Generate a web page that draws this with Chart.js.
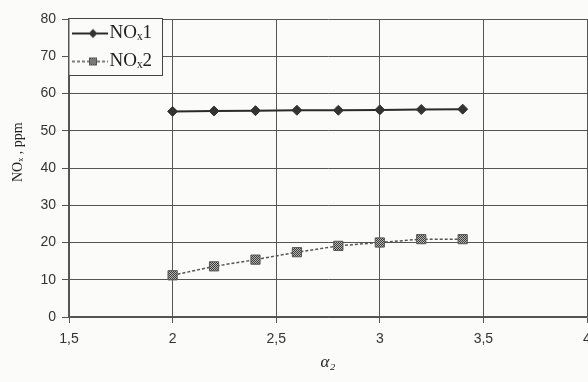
<!DOCTYPE html>
<html><head><meta charset="utf-8">
<script src="https://cdn.jsdelivr.net/npm/chart.js@4/dist/chart.umd.min.js"></script>
<style>html,body{margin:0;padding:0;background:#fbfbfa;}canvas{display:block;}</style>
</head><body>
<canvas id="c" width="588" height="382"></canvas>
<script>
const alpha = [2.0, 2.2, 2.4, 2.6, 2.8, 3.0, 3.2, 3.4];
const nox1 = [55.2, 55.3, 55.4, 55.5, 55.5, 55.6, 55.7, 55.8];
const nox2 = [11.2, 13.6, 15.4, 17.4, 19.1, 20.0, 20.9, 20.9];
const seriesNames = ['NOₓ1', 'NOₓ2'];
const xTitle = 'α₂';
const yTitle = '\u2003\u2003 NOₓ , ppm';

function makePattern() {
  const p = document.createElement('canvas'); p.width = 2; p.height = 2;
  const g = p.getContext('2d');
  g.fillStyle = '#b8b8b8'; g.fillRect(0,0,2,2);
  g.fillStyle = '#3a3a3a'; g.fillRect(0,0,1,1); g.fillRect(1,1,1,1);
  return document.createElement('canvas').getContext('2d').createPattern(p, 'repeat');
}
const pat = makePattern();

function legendIcon(kind) {
  const c = document.createElement('canvas'); c.width = 44; c.height = 14;
  const g = c.getContext('2d');
  g.strokeStyle = kind === 0 ? '#2a2a2a' : '#555';
  g.lineWidth = kind === 0 ? 2 : 1.5;
  if (kind === 1) g.setLineDash([3,2]);
  g.beginPath(); g.moveTo(8,7); g.lineTo(44,7); g.stroke();
  g.setLineDash([]);
  if (kind === 0) {
    g.fillStyle = '#333'; g.beginPath();
    g.moveTo(29,2.5); g.lineTo(33.5,7); g.lineTo(29,11.5); g.lineTo(24.5,7); g.closePath(); g.fill();
  } else {
    g.fillStyle = pat; g.fillRect(25,3,8,8);
    g.strokeStyle = '#555'; g.lineWidth = 1; g.strokeRect(25.5,3.5,7,7);
  }
  return c;
}

const legendBox = {
  id: 'legendBox',
  afterInit(chart) {
    const lg = chart.legend;
    const orig = lg.draw;
    lg.draw = function() {
      const ca = chart.chartArea;
      const pad = this.options.labels.padding;
      const ctx = chart.ctx;
      const l = ca.left - 1, t = ca.top - 1, w = 94, h = 57;
      ctx.save();
      ctx.fillStyle = '#fbfbfa';
      ctx.fillRect(l, t, w, h);
      ctx.strokeStyle = '#444'; ctx.lineWidth = 1;
      ctx.strokeRect(l + 0.5, t + 0.5, w, h);
      ctx.restore();
      const dx = (ca.left + 3) - (this.left + pad);
      const dy = (ca.top + 5) - (this.top + pad);
      ctx.save();
      ctx.translate(dx, dy);
      orig.apply(this, arguments);
      ctx.restore();
    };
  }
};

new Chart(document.getElementById('c'), {
  type: 'scatter',
  data: {
    datasets: [
      { label: seriesNames[0], data: alpha.map((x,i)=>({x, y: nox1[i]})), showLine: true,
        borderColor: '#2a2a2a', borderWidth: 2, pointStyle: 'rectRot', pointRadius: 5,
        pointBackgroundColor: '#333', pointBorderColor: '#333', pointBorderWidth: 1 },
      { label: seriesNames[1], data: alpha.map((x,i)=>({x, y: nox2[i]})), showLine: true,
        borderColor: '#555', borderWidth: 1.5, borderDash: [3,2], pointStyle: 'rect', pointRadius: 6.5,
        pointBackgroundColor: pat, pointBorderColor: '#555', pointBorderWidth: 1 }
    ]
  },
  options: {
    responsive: false, animation: false,
    layout: { autoPadding: false, padding: { left: 0, right: 1, top: 19, bottom: 0 } },
    plugins: {
      tooltip: { enabled: false },
      legend: {
        position: 'chartArea', align: 'start',
        labels: {
          usePointStyle: true, pointStyleWidth: 28, padding: 9,
          color: '#222', font: { family: 'Liberation Serif', size: 19 },
          generateLabels: (chart) => chart.data.datasets.map((d, i) => ({
            text: d.label, pointStyle: legendIcon(i), datasetIndex: i,
            fontColor: '#222', lineWidth: 0, hidden: false
          }))
        }
      }
    },
    scales: {
      x: {
        type: 'linear', min: 1.5, max: 4,
        ticks: { stepSize: 0.5, color: '#333', font: { family: 'Liberation Sans', size: 14 }, padding: 8,
          callback: v => String(v).replace('.', ',') },
        grid: { color: '#555', lineWidth: 1, tickLength: 6, tickColor: '#555' },
        border: { color: '#555', width: 1.5 },
        title: { display: true, text: xTitle, color: '#222',
          font: { family: 'Liberation Serif', size: 17, style: 'italic' }, padding: { top: 0, bottom: 9 } },
        afterFit: s => { s.height = 65; s.paddingLeft = 0; s.paddingRight = 0; }
      },
      y: {
        min: 0, max: 80,
        ticks: { stepSize: 10, color: '#333', font: { family: 'Liberation Sans', size: 14 }, padding: 6 },
        grid: { color: '#555', lineWidth: 1, tickLength: 7, tickColor: '#555' },
        border: { color: '#555', width: 1.5 },
        title: { display: true, text: yTitle, color: '#222',
          font: { family: 'Liberation Serif', size: 14 }, padding: { top: 10, bottom: 0 } },
        afterFit: s => { s.width = 69; s.paddingTop = 0; s.paddingBottom = 0; }
      }
    }
  },
  plugins: [legendBox]
});
</script>
</body></html>
